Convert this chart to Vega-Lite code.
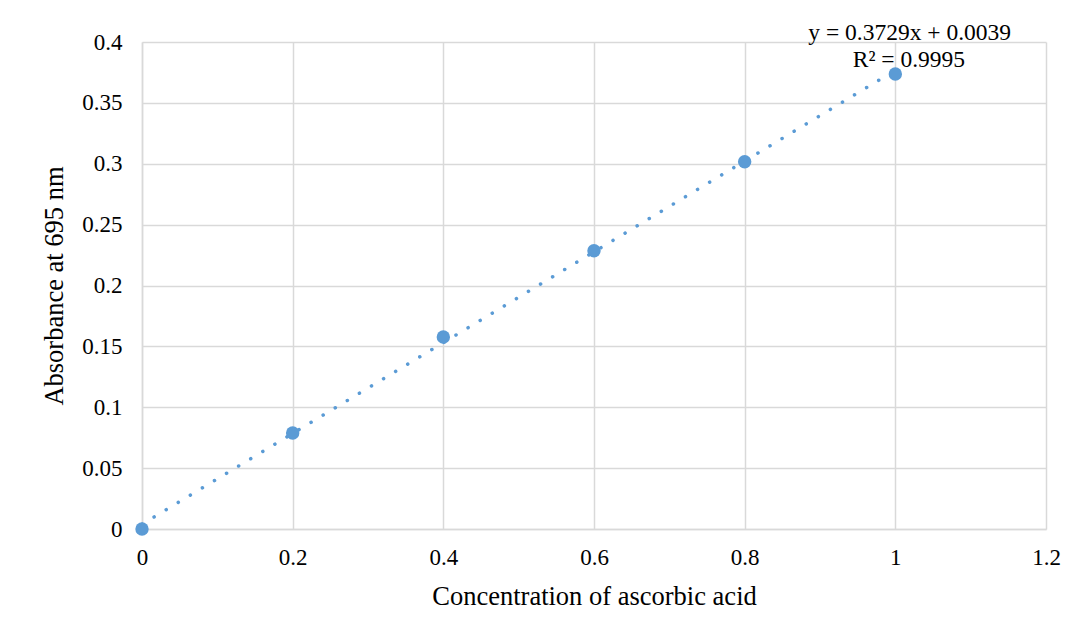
{
  "$schema": "https://vega.github.io/schema/vega-lite/v6.json",
  "width": 904,
  "height": 487,
  "autosize": {"type": "none"},
  "padding": {"left": 142, "top": 42, "right": 29, "bottom": 105},
  "background": "white",
  "config": {
    "view": {"stroke": null},
    "font": "Liberation Serif",
    "axis": {
      "labelFont": "Liberation Serif",
      "titleFont": "Liberation Serif",
      "labelFontSize": 23,
      "titleFontSize": 26.5,
      "labelColor": "#000000",
      "titleColor": "#000000",
      "titleFontWeight": "normal",
      "gridColor": "#d9d9d9",
      "gridWidth": 1.5,
      "domainColor": "#d9d9d9",
      "domainWidth": 1.5,
      "ticks": false,
      "labelFlush": false
    }
  },
  "datasets": {
    "pts": [
      {"conc": 0, "abs": 0},
      {"conc": 0.2, "abs": 0.0789},
      {"conc": 0.4, "abs": 0.1577},
      {"conc": 0.6, "abs": 0.2285},
      {"conc": 0.8, "abs": 0.3016},
      {"conc": 1.0, "abs": 0.3737}
    ],
    "trend": [
      {"conc": 0, "abs": 0.0039},
      {"conc": 1.0, "abs": 0.3768}
    ],
    "labels": [
      {"conc": 1.019, "abs": 0.4074, "txt": "y = 0.3729x + 0.0039"},
      {"conc": 1.018, "abs": 0.3855, "txt": "R² = 0.9995"}
    ]
  },
  "layer": [
    {
      "data": {"name": "trend"},
      "mark": {"type": "line", "color": "#5b9bd5", "strokeWidth": 3.5, "strokeCap": "round", "strokeDash": [0.1, 14]},
      "encoding": {
        "x": {"field": "conc", "type": "quantitative", "scale": {"domain": [0, 1.2]},
          "axis": {"values": [0, 0.2, 0.4, 0.6, 0.8, 1.0, 1.2], "format": "~g", "labelPadding": 17, "title": "Concentration of ascorbic acid", "titlePadding": 14}},
        "y": {"field": "abs", "type": "quantitative", "scale": {"domain": [0, 0.4]},
          "axis": {"values": [0, 0.05, 0.1, 0.15, 0.2, 0.25, 0.3, 0.35, 0.4], "format": "~g", "labelPadding": 20, "title": "Absorbance at 695 nm", "titlePadding": 13}}
      }
    },
    {
      "data": {"name": "pts"},
      "mark": {"type": "circle", "color": "#5b9bd5", "opacity": 1, "size": 180},
      "encoding": {
        "x": {"field": "conc", "type": "quantitative"},
        "y": {"field": "abs", "type": "quantitative"}
      }
    },
    {
      "data": {"name": "labels"},
      "mark": {"type": "text", "font": "Liberation Serif", "fontSize": 23.5, "color": "#000000", "align": "center", "baseline": "middle"},
      "encoding": {
        "x": {"field": "conc", "type": "quantitative"},
        "y": {"field": "abs", "type": "quantitative"},
        "text": {"field": "txt"}
      }
    }
  ]
}
